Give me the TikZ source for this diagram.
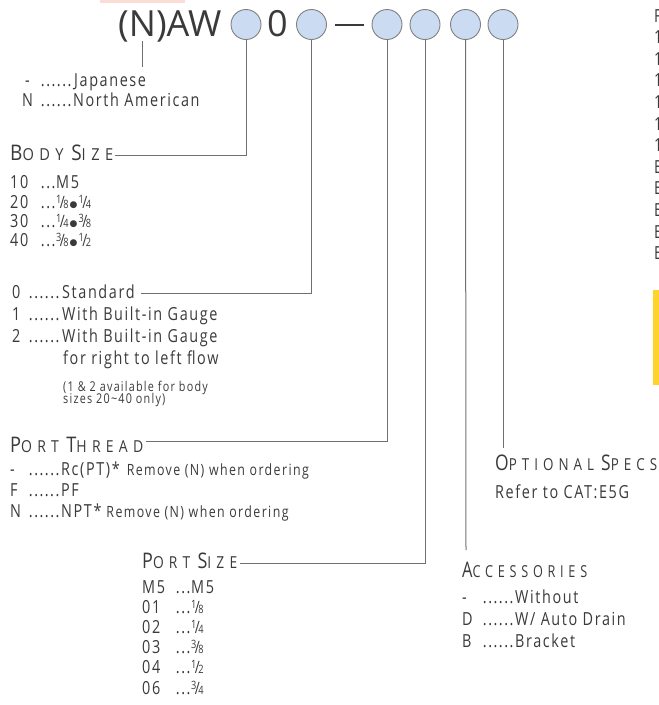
\documentclass[tikz,border=0pt]{standalone}
\usepackage{fontspec}
\setmainfont{Open Sans}[FakeStretch=0.8,LetterSpace=9]
\newfontfamily\hdfont{Open Sans}[FakeStretch=0.8,LetterSpace=30]
\newfontfamily\ttlfont{Open Sans}
\newfontfamily\djv{DejaVu Sans}
\definecolor{ink}{HTML}{3A3A3A}
\definecolor{lncol}{HTML}{707070}
\definecolor{cfill}{HTML}{CBDBF1}
\definecolor{cline}{HTML}{808080}
\definecolor{gold}{HTML}{FFD42A}
\definecolor{pinkish}{HTML}{F9DDD6}
\newcommand\onedot{\hbox to 5.33pt{\hss.\hss}}
\newcommand\dthree{\onedot\onedot\onedot}
\newcommand\dsix{\dthree\dthree}
\newcommand\fr[2]{{\fontsize{11.5}{11.5}\selectfont\raisebox{4.5pt}{#1}}\kern-1.5pt{\fontsize{17}{17}\selectfont /}\kern-1.5pt{\fontsize{11.5}{11.5}\selectfont #2}}
\newcommand\bul{\kern1pt{\djv\fontsize{9}{9}\selectfont\raisebox{1pt}{●}}\kern1pt}
\newcommand\hd[2]{{\fontsize{21.5}{21.5}\selectfont #1}{\fontsize{16.5}{16.5}\selectfont #2}}
\newcommand\fitw[2]{\resizebox{#1}{\height}{#2}}
\tikzset{
  txt/.style={anchor=base west, inner sep=0pt, text=ink, font=\fontsize{18}{18}\selectfont},
  note/.style={anchor=base west, inner sep=0pt, text=ink, font=\fontsize{13.5}{13.5}\selectfont},
  head/.style={anchor=base west, inner sep=0pt, text=ink, font=\hdfont},
  ttl/.style={anchor=base west, inner sep=0pt, text=ink, font=\ttlfont\fontsize{36}{36}\selectfont},
  circ/.style={circle, draw=cline, fill=cfill, line width=0.9pt, minimum size=30pt, inner sep=0pt},
  ln/.style={draw=lncol, line width=1pt},
}
\begin{document}
\begin{tikzpicture}[x=1pt,y=-1pt]
\useasboundingbox (0,0) rectangle (659,705);
\fill[pinkish] (100,0) rectangle (185,2.5);
\fill[gold] (653,290) rectangle (659,385);

% title row
\node[ttl] (title) at (118,36.5) {(N)AW};
\node[circ] (c1) at (246,24.5) {};
\node[ttl] (zero) at (267,36.5) {0};
\node[circ] (c2) at (311.5,24.5) {};
\node[fill=ink, minimum width=29pt, minimum height=2.5pt, inner sep=0pt] (dash) at (349.5,25) {};
\node[circ] (c3) at (387,24.5) {};
\node[circ] (c4) at (425,24.5) {};
\node[circ] (c5) at (465.5,24.5) {};
\node[circ] (c6) at (503,24.5) {};

% end points of connectors
\coordinate (n1) at (142,41);
\coordinate (n2) at (142,67);
\coordinate (bsend) at (115,155);
\coordinate (stdend) at (141,293);
\coordinate (ptend) at (146,441);
\coordinate (psend) at (240,563);
\coordinate (acend) at (466,550);
\coordinate (opend) at (503,448);

\draw[ln] (n1) -- (n2);
\draw[ln] (c1.south) |- (bsend);
\draw[ln] (c2.south) |- (stdend);
\draw[ln] (c3.south) |- (ptend);
\draw[ln] (c4.south) |- (psend);
\draw[ln] (c5.south) -- (acend);
\draw[ln] (c6.south) -- (opend);

% region
\node[txt] (jp) at (22,86) {\makebox[18pt][l]{\kern3pt-}\dsix\kern2pt Japanese};
\node[txt] (na) at (22,106) {\makebox[18pt][l]{N}\dsix\kern1pt North American};

% body size
\node[head] (bs) at (10,160) {\fitw{103pt}{\hd{B}{ODY}\hspace{7pt}\hd{S}{IZE}}};
\node[txt] (b10) at (10,188) {\makebox[30pt][l]{10}\dthree M5};
\node[txt] (b20) at (10,208) {\makebox[30pt][l]{20}\dthree\fr{1}{8}\bul\fr{1}{4}};
\node[txt] (b30) at (10,227) {\makebox[30pt][l]{30}\dthree\fr{1}{4}\bul\fr{3}{8}};
\node[txt] (b40) at (10,246) {\makebox[30pt][l]{40}\dthree\fr{3}{8}\bul\fr{1}{2}};

% type
\node[txt] (t0) at (12,298) {\makebox[16pt][l]{0}\dsix\kern2pt Standard};
\node[txt] (t1) at (12,320) {\makebox[16pt][l]{1}\dsix\kern2pt With Built-in Gauge};
\node[txt] (t2) at (12,342) {\makebox[16pt][l]{2}\dsix\kern2pt With Built-in Gauge};
\node[txt] (t2b) at (63,364) {for right to left flow};
\node[note] (nt1) at (63,391) {(1 \& 2 available for body};
\node[note] (nt2) at (63,403) {sizes 20\textasciitilde 40 only)};

% port thread
\node[head] (pt) at (10,452) {\fitw{133pt}{\hd{P}{ORT}\hspace{7pt}\hd{T}{HREAD}}};
\node[txt] (ptr) at (10,475) {\makebox[18pt][l]{-}\dsix\kern1pt Rc(PT)*\hspace{7pt}{\fontsize{15.5}{15.5}\selectfont Remove (N) when ordering}};
\node[txt] (ptf) at (10,496) {\makebox[18pt][l]{F}\dsix\kern1pt PF};
\node[txt] (ptn) at (10,517) {\makebox[18pt][l]{N}\dsix\kern1pt NPT*\hspace{5pt}{\fontsize{15.5}{15.5}\selectfont Remove (N) when ordering}};

% port size
\node[head] (ps) at (142,568) {\fitw{95pt}{\hd{P}{ORT}\hspace{7pt}\hd{S}{IZE}}};
\node[txt] (pm5) at (142,593) {\makebox[33pt][l]{M5}\dthree M5};
\node[txt] (p01) at (142,613) {\makebox[33pt][l]{01}\dthree\fr{1}{8}};
\node[txt] (p02) at (142,633) {\makebox[33pt][l]{02}\dthree\fr{1}{4}};
\node[txt] (p03) at (142,653) {\makebox[33pt][l]{03}\dthree\fr{3}{8}};
\node[txt] (p04) at (142,673) {\makebox[33pt][l]{04}\dthree\fr{1}{2}};
\node[txt] (p06) at (142,694) {\makebox[33pt][l]{06}\dthree\fr{3}{4}};

% optional specs
\node[head] (op) at (495,470) {\fitw{162pt}{\hd{O}{PTIONAL}\hspace{7pt}\hd{S}{PECS}}};
\node[txt] (opr) at (495,498) {Refer to CAT:E5G};

% accessories
\node[head] (ac) at (462,577) {\fitw{125pt}{\hd{A}{CCESSORIES}}};
\node[txt] (a1) at (462,603) {\makebox[20pt][l]{-}\dsix\kern1pt Without};
\node[txt] (a2) at (462,625) {\makebox[20pt][l]{D}\dsix\kern1pt W/ Auto Drain};
\node[txt] (a3) at (462,647) {\makebox[20pt][l]{B}\dsix\kern1pt Bracket};

% clipped text at right edge
\node[txt] (r0) at (654,22) {F};
\node[txt] (r1) at (654,43.6) {1};
\node[txt] (r2) at (654,65.2) {1};
\node[txt] (r3) at (654,86.8) {1};
\node[txt] (r4) at (654,108.4) {1};
\node[txt] (r5) at (654,130) {1};
\node[txt] (r6) at (654,151.6) {1};
\node[txt] (r7) at (654,173.2) {E};
\node[txt] (r8) at (654,194.8) {E};
\node[txt] (r9) at (654,216.4) {E};
\node[txt] (r10) at (654,238) {E};
\node[txt] (r11) at (654,259.6) {E};
\end{tikzpicture}
\end{document}
